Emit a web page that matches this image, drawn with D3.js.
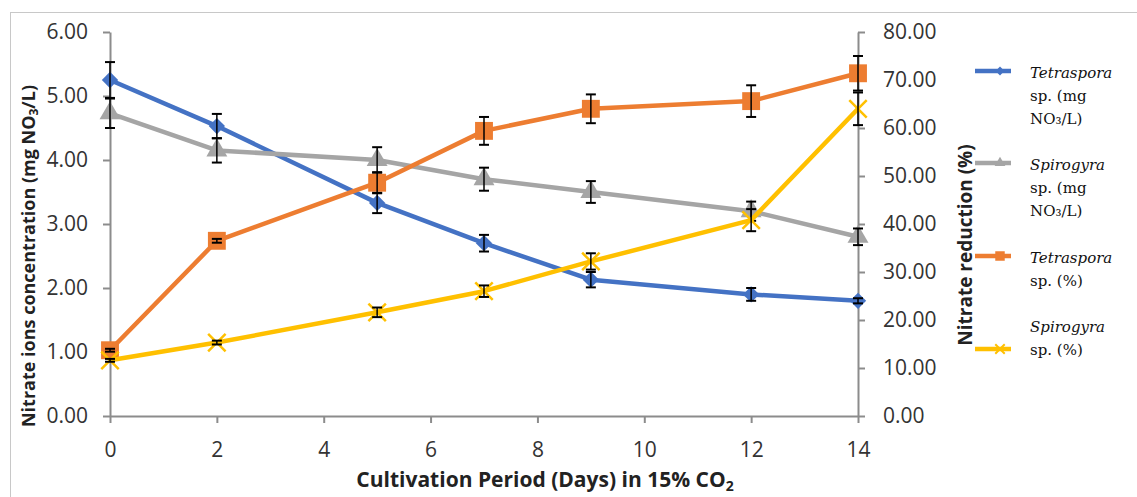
<!DOCTYPE html>
<html>
<head>
<meta charset="utf-8">
<script src="https://cdn.jsdelivr.net/npm/d3@7"></script>
<style>
  body { margin: 0; background: #fff; }
  svg { display: block; }
</style>
</head>
<body>
<svg id="chart" width="1137" height="497"></svg>
<script>
const days = [0, 2, 5, 7, 9, 12, 14];
const tetraMg = [5.25, 4.53, 3.33, 2.70, 2.13, 1.90, 1.80];
const tetraMgErr = [0.28, 0.19, 0.16, 0.13, 0.12, 0.10, 0.04];
const spiroMg = [4.73, 4.15, 4.00, 3.70, 3.50, 3.20, 2.80];
const spiroMgErr = [0.23, 0.19, 0.20, 0.18, 0.17, 0.15, 0.13];
const tetraPct = [13.7, 36.5, 48.6, 59.4, 64.0, 65.6, 71.4];
const tetraPctErr = [0.3, 0.4, 2.2, 2.9, 3.0, 3.3, 3.6];
const spiroPct = [11.6, 15.3, 21.6, 26.0, 32.2, 40.8, 64.0];
const spiroPctErr = [0.3, 0.4, 1.0, 1.2, 1.7, 2.3, 3.4];
const xTicks = [0, 2, 4, 6, 8, 10, 12, 14];
const leftTicks = [0, 1, 2, 3, 4, 5, 6];
const rightTicks = [0, 10, 20, 30, 40, 50, 60, 70, 80];

const svg = d3.select("#chart");
const axisColor = "#8c8c8c";
const tickFont = "Open Sans, Liberation Sans, sans-serif";

// chart frame
svg.append("rect")
  .attr("x", 10.5).attr("y", 12.5)
  .attr("width", 1140).attr("height", 500)
  .attr("fill", "none").attr("stroke", "#c8c8c8").attr("stroke-width", 1);

const x = d3.scaleLinear().domain([0, 14]).range([110, 858]);
const yL = d3.scaleLinear().domain([0, 6]).range([416, 32]);
const yR = d3.scaleLinear().domain([0, 80]).range([416, 32]);

function styleAxis(g) {
  g.selectAll("path, line").attr("stroke", axisColor).attr("stroke-width", 2);
  g.selectAll("text")
    .attr("fill", "#333")
    .style("font-family", tickFont)
    .style("font-size", "21px");
}

svg.append("g")
  .attr("transform", "translate(0,416)")
  .call(d3.axisBottom(x).tickValues(xTicks).tickSize(7).tickSizeOuter(0).tickPadding(19))
  .call(styleAxis);

svg.append("g")
  .attr("transform", "translate(110,0)")
  .call(d3.axisLeft(yL).tickValues(leftTicks).tickFormat(d3.format(".2f")).tickSize(7).tickSizeOuter(0).tickPadding(15))
  .call(styleAxis);

svg.append("g")
  .attr("transform", "translate(858,0)")
  .call(d3.axisRight(yR).tickValues(rightTicks).tickFormat(d3.format(".2f")).tickSize(7).tickSizeOuter(0).tickPadding(18))
  .call(styleAxis);

// axis titles
svg.append("text")
  .attr("transform", "translate(35,256) rotate(-90)")
  .attr("text-anchor", "middle")
  .style("font-family", tickFont).style("font-size", "18px").style("font-weight", "bold")
  .attr("fill", "#222")
  .html('Nitrate ions concentration (mg NO<tspan font-size="12px" dy="3">3</tspan><tspan dy="-3">/L)</tspan>');

svg.append("text")
  .attr("transform", "translate(972,245) rotate(-90)")
  .attr("text-anchor", "middle")
  .style("font-family", tickFont).style("font-size", "19px").style("font-weight", "bold")
  .attr("fill", "#222")
  .text("Nitrate reduction (%)");

svg.append("text")
  .attr("x", 545).attr("y", 487)
  .attr("text-anchor", "middle")
  .style("font-family", tickFont).style("font-size", "21px").style("font-weight", "bold")
  .attr("fill", "#222")
  .html('Cultivation Period (Days) in 15% CO<tspan font-size="14px" dy="4">2</tspan>');

const series = [
  { name: "tetraMg", vals: tetraMg, err: tetraMgErr, y: yL, color: "#4472C4", marker: d3.symbolDiamond2, size: 170 },
  { name: "spiroMg", vals: spiroMg, err: spiroMgErr, y: yL, color: "#A5A5A5", marker: d3.symbolTriangle, size: 190 },
  { name: "tetraPct", vals: tetraPct, err: tetraPctErr, y: yR, color: "#ED7D31", marker: d3.symbolSquare, size: 320 },
  { name: "spiroPct", vals: spiroPct, err: spiroPctErr, y: yR, color: "#FFC000", marker: d3.symbolX, size: 200 }
];

series.forEach(s => {
  const g = svg.append("g").attr("class", s.name);
  const pts = days.map((d, i) => [d, s.vals[i], s.err[i]]);
  g.append("path")
    .datum(pts)
    .attr("fill", "none")
    .attr("stroke", s.color)
    .attr("stroke-width", 4.5)
    .attr("stroke-linejoin", "round")
    .attr("d", d3.line().x(p => x(p[0])).y(p => s.y(p[1])));

  const sym = d3.symbol().type(s.marker).size(s.size);
  g.selectAll(".mk").data(pts).join("path")
    .attr("class", "mk")
    .attr("transform", p => `translate(${x(p[0])},${s.y(p[1])})`)
    .attr("d", sym)
    .attr("fill", s.marker === d3.symbolX ? "none" : s.color)
    .attr("stroke", s.color)
    .attr("stroke-width", s.marker === d3.symbolX ? 2.5 : 0);

  // error bars
  const eb = g.selectAll(".eb").data(pts).join("g").attr("class", "eb");
  eb.append("line")
    .attr("x1", p => x(p[0])).attr("x2", p => x(p[0]))
    .attr("y1", p => s.y(p[1] - p[2])).attr("y2", p => s.y(p[1] + p[2]))
    .attr("stroke", "#000").attr("stroke-width", 1.5);
  [1, -1].forEach(sign => {
    eb.append("line")
      .attr("x1", p => x(p[0]) - 5).attr("x2", p => x(p[0]) + 5)
      .attr("y1", p => s.y(p[1] + sign * p[2])).attr("y2", p => s.y(p[1] + sign * p[2]))
      .attr("stroke", "#000").attr("stroke-width", 2);
  });
});

// legend
const legend = [
  { color: "#4472C4", marker: d3.symbolDiamond2, size: 50, y: 71, lines: [["Tetraspora", true], ["sp. (mg", false], ["NO\u2083/L)", false]] },
  { color: "#A5A5A5", marker: d3.symbolTriangle, size: 50, y: 163, lines: [["Spirogyra", true], ["sp. (mg", false], ["NO\u2083/L)", false]] },
  { color: "#ED7D31", marker: d3.symbolSquare, size: 90, y: 256, lines: [["Tetraspora", true], ["sp. (%)", false]] },
  { color: "#FFC000", marker: d3.symbolX, size: 60, y: 349, lines: [["Spirogyra", true], ["sp. (%)", false]] }
];
const lg = svg.append("g");
legend.forEach(l => {
  lg.append("line")
    .attr("x1", 975).attr("x2", 1011)
    .attr("y1", l.y).attr("y2", l.y)
    .attr("stroke", l.color).attr("stroke-width", 4.5);
  lg.append("path")
    .attr("transform", `translate(1000,${l.y})`)
    .attr("d", d3.symbol().type(l.marker).size(l.size))
    .attr("fill", l.marker === d3.symbolX ? "none" : l.color)
    .attr("stroke", l.color).attr("stroke-width", l.marker === d3.symbolX ? 2 : 0);
  const startY = l.lines.length === 2 && l.y > 300 ? l.y - 22 : l.y + 2;
  l.lines.forEach((t, i) => {
    lg.append("text")
      .attr("x", 1030).attr("y", startY + i * 23 + 5)
      .style("font-family", "DejaVu Serif, Liberation Serif, serif")
      .style("font-size", "15px")
      .style("font-style", t[1] ? "italic" : "normal")
      .attr("fill", "#111")
      .text(t[0]);
  });
});
</script>
</body>
</html>
